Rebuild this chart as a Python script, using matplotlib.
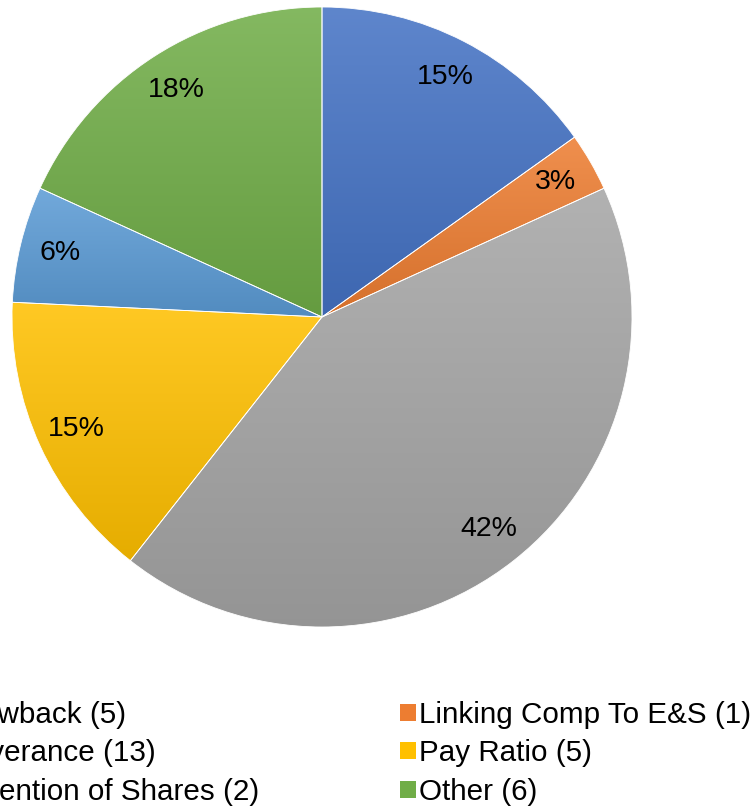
import numpy as np
import matplotlib
matplotlib.use("Agg")
import matplotlib.pyplot as plt
from matplotlib.patches import Patch
from matplotlib.colors import to_rgb, LinearSegmentedColormap

plt.rcParams['font.family'] = ['Liberation Sans', 'DejaVu Sans']

# Shareholder proposal topics (count) and their share of the total, in %
categories = ["Clawback (5)", "Linking Comp To E&S (1)", "Severance (13)",
              "Pay Ratio (5)", "Retention of Shares (2)", "Other (6)"]
shares = [15, 3, 42, 15, 6, 18]
colors = ["#4472C4", "#ED7D31", "#A5A5A5", "#FFC000", "#5B9BD5", "#70AD47"]

W, H, DPI = 756, 810, 100
fig = plt.figure(figsize=(W / DPI, H / DPI), dpi=DPI)

# pie centre and radius in pixels
cx, cy, r = 322, 317, 310
ax = fig.add_axes([(cx - r) / W, 1 - (cy + r) / H, 2 * r / W, 2 * r / H])

wedges, texts, autotexts = ax.pie(
    shares, colors=colors, startangle=90, counterclock=False,
    autopct='%.0f%%', pctdistance=0.87,
    wedgeprops=dict(edgecolor='white', linewidth=0.6),
    textprops=dict(fontsize=20.5, color='black'))


def shade(c, top_light=0.14, bottom_dark=0.9):
    rgb = np.array(to_rgb(c))
    top = rgb + (1 - rgb) * top_light
    bot = rgb * bottom_dark
    return top, bot


# vertical gradient fill per slice, light at the top, darker at the bottom
for w, c in zip(wedges, colors):
    top, bot = shade(c)
    cmap = LinearSegmentedColormap.from_list("g", [bot, top])
    path = w.get_path().transformed(w.get_patch_transform())
    verts = path.vertices
    x0, x1 = verts[:, 0].min(), verts[:, 0].max()
    y0, y1 = verts[:, 1].min(), verts[:, 1].max()
    grad = np.linspace(0, 1, 256).reshape(-1, 1)
    im = ax.imshow(grad, cmap=cmap, origin='lower', aspect='auto',
                   extent=[x0, x1, y0, y1], zorder=w.get_zorder() + 0.1,
                   interpolation='bicubic')
    im.set_clip_path(w)
    w.set_facecolor('none')
    w.set_zorder(w.get_zorder() + 0.2)

for t in autotexts:
    t.set_zorder(5)

ax.set_aspect('equal')
ax.set_xlim(-1, 1)
ax.set_ylim(-1, 1)
ax.axis('off')

# legend entries run across the rows, two per row
order = [0, 2, 4, 1, 3, 5]
handles = [Patch(facecolor=colors[i], edgecolor='none') for i in order]
labels = [categories[i] for i in order]
leg = fig.legend(handles, labels, ncol=2, loc='upper left',
                 bbox_to_anchor=(-67 / W, 1 - 701 / H),
                 frameon=False, fontsize=21.3, borderpad=0, borderaxespad=0,
                 handlelength=0.55, handleheight=0.52, handletextpad=0.12,
                 labelspacing=0.35, columnspacing=4.75)

fig.savefig("out.png", dpi=DPI)
